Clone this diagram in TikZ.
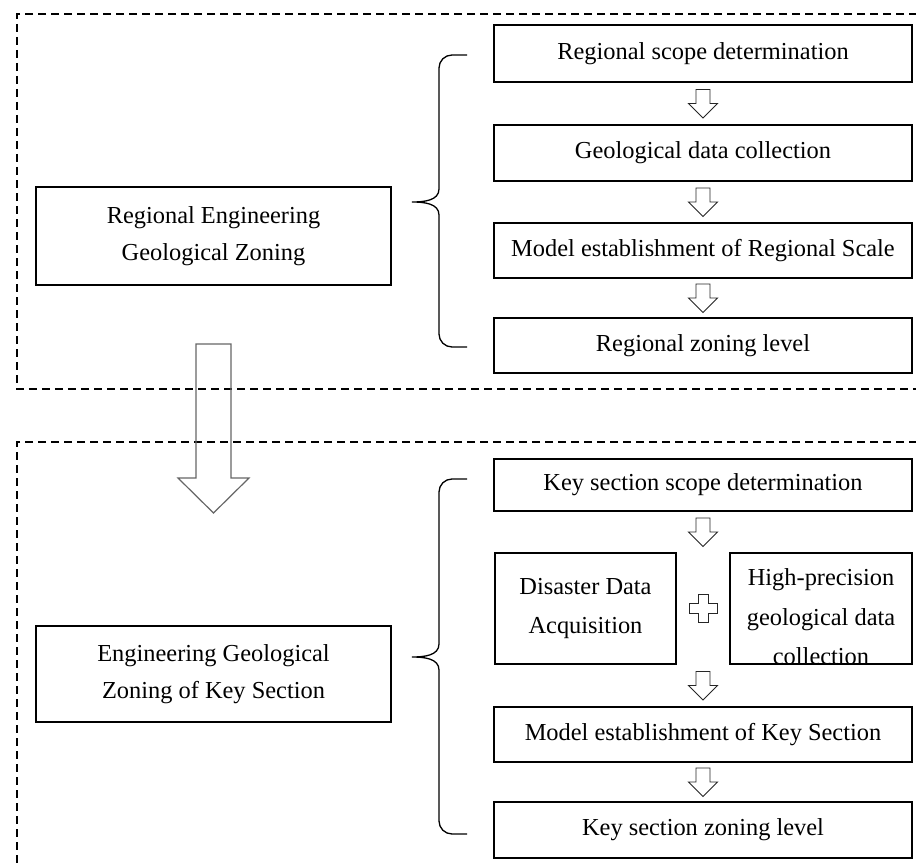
\documentclass[tikz,border=0pt]{standalone}
\usepackage{fontspec}
\setmainfont{Liberation Serif}
\usetikzlibrary{calc}
\begin{document}
\begin{tikzpicture}[x=1pt,y=1pt,
  txt/.style={font=\fontsize{24.4}{37}\selectfont,align=center},
  box/.style={draw=black,line width=1.3pt,inner sep=0pt,txt},
  wide/.style={box,minimum width=418},
  frame/.style={dash pattern=on 8pt off 5pt,line width=2pt},
  sarrow/.style={draw=black!85,line width=0.9pt,fill=white},
  bigarrow/.style={draw=black!60,line width=1.2pt},
  bracel/.style={line width=1.3pt},
  smallarrow/.pic={\draw[sarrow] (-7,14) -- (-7,0) -- (-14.5,0) -- (0,-14.5) -- (14.5,0) -- (7,0) -- (7,14) -- cycle;},
  plussign/.pic={\draw[sarrow] (-5,14) -- (5,14) -- (5,5) -- (14,5) -- (14,-5) -- (5,-5) -- (5,-14) -- (-5,-14) -- (-5,-5) -- (-14,-5) -- (-14,5) -- (-5,5) -- cycle;}]
\useasboundingbox (0,0) rectangle (916,-867);
\fill[white] (0,0) rectangle (916,-867);

% dashed frames
\draw[frame] (930,-14) -- (17,-14) -- (17,-389) -- (930,-389);
\draw[frame] (930,-442) -- (17,-442) -- (17,-880);

% upper part
\node[box,minimum width=355,minimum height=98] (L1) at (213.5,-236) {Regional Engineering\\Geological Zoning};
\node[wide,minimum height=57] (r1) at (703,-53.5) {Regional scope determination};
\node[wide,minimum height=56] (r2) at (703,-153) {Geological data collection};
\node[wide,minimum height=55] (r3) at (703,-250.5) {Model establishment of Regional Scale};
\node[wide,minimum height=55] (r4) at (703,-345.5) {Regional zoning level};
\path ($(r1.south)!.5!(r2.north)$) pic {smallarrow};
\path ($(r2.south)!.5!(r3.north)$) pic {smallarrow};
\path ($(r3.south)!.5!(r4.north)$) pic {smallarrow};
\draw[bracel] (467,-55) -- (452,-55) to[out=180,in=90] (439,-68) -- (439,-189)
  to[out=-90,in=0] (412,-202) to[out=0,in=90] (439,-215) -- (439,-334)
  to[out=-90,in=180] (452,-347) -- (467,-347);

% big arrow
\draw[bigarrow] (196,-344) -- (231,-344) -- (231,-478) -- (249,-478) -- (213.5,-513) -- (178,-478) -- (196,-478) -- cycle;

% lower part
\node[box,minimum width=355,minimum height=96] (L2) at (213.5,-674) {Engineering Geological\\Zoning of Key Section};
\node[wide,minimum height=52] (k1) at (703,-485) {Key section scope determination};
\node[box,minimum width=181,minimum height=111,font=\fontsize{24.4}{39}\selectfont] (d) at (585.5,-608.5) {Disaster Data\\Acquisition};
\node[box,minimum width=182,minimum height=111] (h) at (821,-608.5) {};
\node[txt,font=\fontsize{24.4}{39.5}\selectfont] (htxt) at (821,-617) {High-precision\\geological data\\collection};
\node[wide,minimum height=55] (k3) at (703,-734.5) {Model establishment of Key Section};
\node[wide,minimum height=56] (k4) at (703,-830) {Key section zoning level};
\path ($(k1.south)!.5!(d.north -| k1.south)$) pic {smallarrow};
\path ($(d.east)!.5!(h.west)$) pic {plussign};
\path ($(d.south -| k3.north)!.5!(k3.north)$) pic {smallarrow};
\path ($(k3.south)!.5!(k4.north)$) pic {smallarrow};
\draw[bracel] (467,-479) -- (452,-479) to[out=180,in=90] (439,-492) -- (439,-644)
  to[out=-90,in=0] (412,-657) to[out=0,in=90] (439,-670) -- (439,-821)
  to[out=-90,in=180] (452,-834) -- (467,-834);
\end{tikzpicture}
\end{document}
